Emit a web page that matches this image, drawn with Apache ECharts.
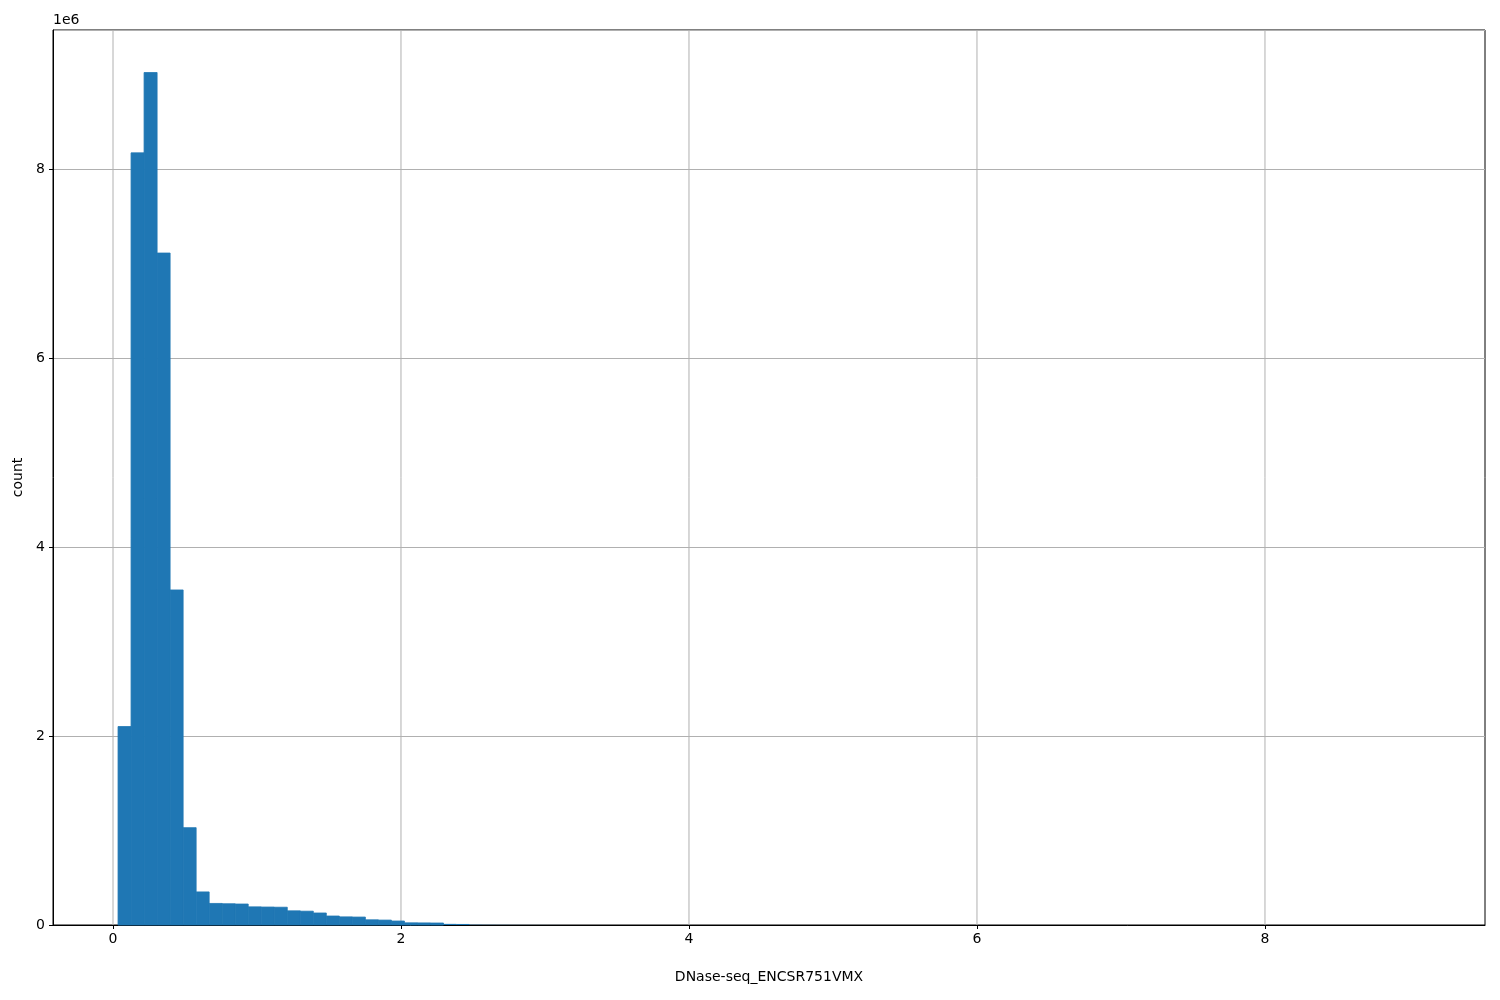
<!DOCTYPE html>
<html>
<head>
<meta charset="utf-8">
<script src="https://cdn.jsdelivr.net/npm/echarts@6/dist/echarts.min.js"></script>
<style>html,body{margin:0;padding:0;background:#fff}#c{width:1500px;height:1000px}</style>
</head>
<body>
<div id="c"></div>
<script>
// Histogram: 100 bins between binStart and binEnd
const binStart = 0.035;
const binEnd = 9.075;
const counts = [
  2100000, 8170000, 9020000, 7110000, 3545000, 1030000, 350000, 228000, 225000, 222000,
  192000, 190000, 188000, 150000, 146000, 127000, 95000, 86000, 84000, 55000,
  52000, 42000, 23000, 22000, 21000, 12000, 11000, 3000, 2000, 1500,
  1000, 700, 500, 400, 300, 200, 150, 100, 80, 60,
  40, 30, 20, 15, 10, 8, 6, 5, 4, 3,
  2, 2, 1, 1, 1, 0, 0, 0, 0, 0,
  0, 0, 0, 0, 0, 0, 0, 0, 0, 0,
  0, 0, 0, 0, 0, 0, 0, 0, 0, 0,
  0, 0, 0, 0, 0, 0, 0, 0, 0, 0,
  0, 0, 0, 0, 0, 0, 0, 0, 0, 1
];
const xTicks = [0, 2, 4, 6, 8];
const xLabel = 'DNase-seq_ENCSR751VMX';
const yLabel = 'count';

const binWidth = (binEnd - binStart) / counts.length;
const data = counts.map((c, i) => [binStart + i * binWidth, binStart + (i + 1) * binWidth, c]);

const chart = echarts.init(document.getElementById('c'));
const font = 'DejaVu Sans';
chart.setOption({
  animation: false,
  backgroundColor: '#fff',
  grid: { left: 53, right: 15, top: 30, bottom: 75, containLabel: false, outerBoundsMode: 'none', show: true, borderColor: '#000', borderWidth: 1, backgroundColor: 'transparent' },
  xAxis: {
    type: 'value', min: -0.4167, max: 9.528,
    axisLine: { show: true, onZero: false, lineStyle: { color: '#000', width: 1 } },
    axisTick: { show: true, customValues: xTicks, length: 4, lineStyle: { color: '#000' } },
    axisLabel: { customValues: xTicks, color: '#000', fontFamily: font, fontSize: 14, margin: 7 },
    splitLine: { show: false },
    name: xLabel, nameLocation: 'middle', nameGap: 45,
    nameTextStyle: { color: '#000', fontFamily: font, fontSize: 14 }
  },
  yAxis: {
    type: 'value', min: 0, max: 9470000, interval: 2000000,
    axisLine: { show: true, onZero: false, lineStyle: { color: '#000', width: 1 } },
    axisTick: { show: true, length: 4, lineStyle: { color: '#000' } },
    axisLabel: { color: '#000', fontFamily: font, fontSize: 14, margin: 8, showMaxLabel: false, formatter: v => String(v / 1e6) },
    splitLine: { show: true, lineStyle: { color: '#b0b0b0', width: 1 } },
    name: yLabel, nameLocation: 'middle', nameGap: 25,
    nameTextStyle: { color: '#000', fontFamily: font, fontSize: 14 }
  },
  graphic: [
    { type: 'text', left: 53, top: 13, style: { text: '1e6', font: '14px "DejaVu Sans"', fill: '#000' } }
  ],
  series: [
    {
      type: 'custom',
      data: data,
      encode: { x: [0, 1], y: 2 },
      z: 3,
      renderItem: function (params, api) {
        const p0 = api.coord([api.value(0), api.value(2)]);
        const p1 = api.coord([api.value(1), 0]);
        const h = p1[1] - p0[1];
        if (h <= 0) return null;
        return {
          type: 'rect',
          shape: { x: p0[0], y: p0[1], width: p1[0] - p0[0], height: h },
          style: h > 1.5 ? { fill: '#1f77b4', stroke: '#1f77b4', lineWidth: 0.8 } : { fill: '#1f77b4', stroke: null }
        };
      }
    },
    {
      // vertical grid lines at the x tick positions
      type: 'custom',
      data: xTicks.map(t => [t]),
      z: 1,
      silent: true,
      renderItem: function (params, api) {
        const top = api.coord([api.value(0), 9470000]);
        const bot = api.coord([api.value(0), 0]);
        return { type: 'line', shape: { x1: top[0], y1: top[1], x2: bot[0], y2: bot[1] }, style: { stroke: '#b0b0b0', lineWidth: 1 } };
      }
    }
  ]
});
</script>
</body>
</html>
